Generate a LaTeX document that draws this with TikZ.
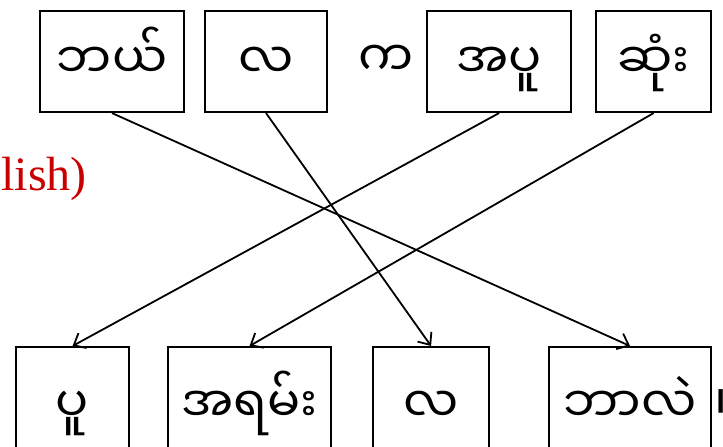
\documentclass[tikz,border=0pt]{standalone}
\usepackage{fontspec}
\setmainfont{Liberation Serif}
\newfontfamily\mya[Script=Myanmar]{Noto Sans Myanmar UI}
\usetikzlibrary{arrows.meta}
\definecolor{redtext}{RGB}{200,0,0}
\begin{document}
\begin{tikzpicture}[x=1pt,y=1pt,
  wbox/.style={draw,line width=2.1pt,inner sep=0pt,anchor=north west,font=\mya\fontsize{49}{51}\selectfont},
  toprow/.style={wbox,minimum height=101pt,text height=40pt,text depth=7pt},
  botrow/.style={wbox,minimum height=104pt,text height=52pt,text depth=6pt},
  link/.style={line width=1.8pt,-{Straight Barb[length=10pt,width=17pt,line width=1.8pt]}}]
\useasboundingbox (0,0) rectangle (723,447);
% top row
\node[toprow,minimum width=144pt] (b1) at (39,437) {ဘယ်};
\node[toprow,minimum width=122pt] (b2) at (204,437) {လ};
\node[inner sep=0pt,text height=40pt,text depth=7pt,font=\mya\fontsize{49}{51}\selectfont] (k) at (386,386.5) {က};
\node[toprow,minimum width=144pt] (b3) at (426,437) {အပူ};
\node[toprow,minimum width=115pt] (b4) at (595,437) {ဆုံး};
% red label
\node[anchor=base east,inner sep=0pt,text=redtext,font=\fontsize{48}{50}\selectfont] (lab) at (87,256) {lish)};
% bottom row
\node[botrow,minimum width=113pt] (b5) at (15,101) {ပူ};
\node[botrow,minimum width=163pt] (b6) at (167,101) {အရမ်း};
\node[botrow,minimum width=116pt] (b7) at (372,101) {လ};
\node[botrow,minimum width=162pt] (b8) at (548,101) {ဘာလဲ};
\node[anchor=base west,inner sep=0pt,font=\mya\fontsize{49}{51}\selectfont] (p) at (714,26) {။};
% connectors
\draw[link] (b1.south) -- (b8.north);
\draw[link] (b2.south) -- (b7.north);
\draw[link] (b3.south) -- (b5.north);
\draw[link] (b4.south) -- (b6.north);
\end{tikzpicture}
\end{document}
